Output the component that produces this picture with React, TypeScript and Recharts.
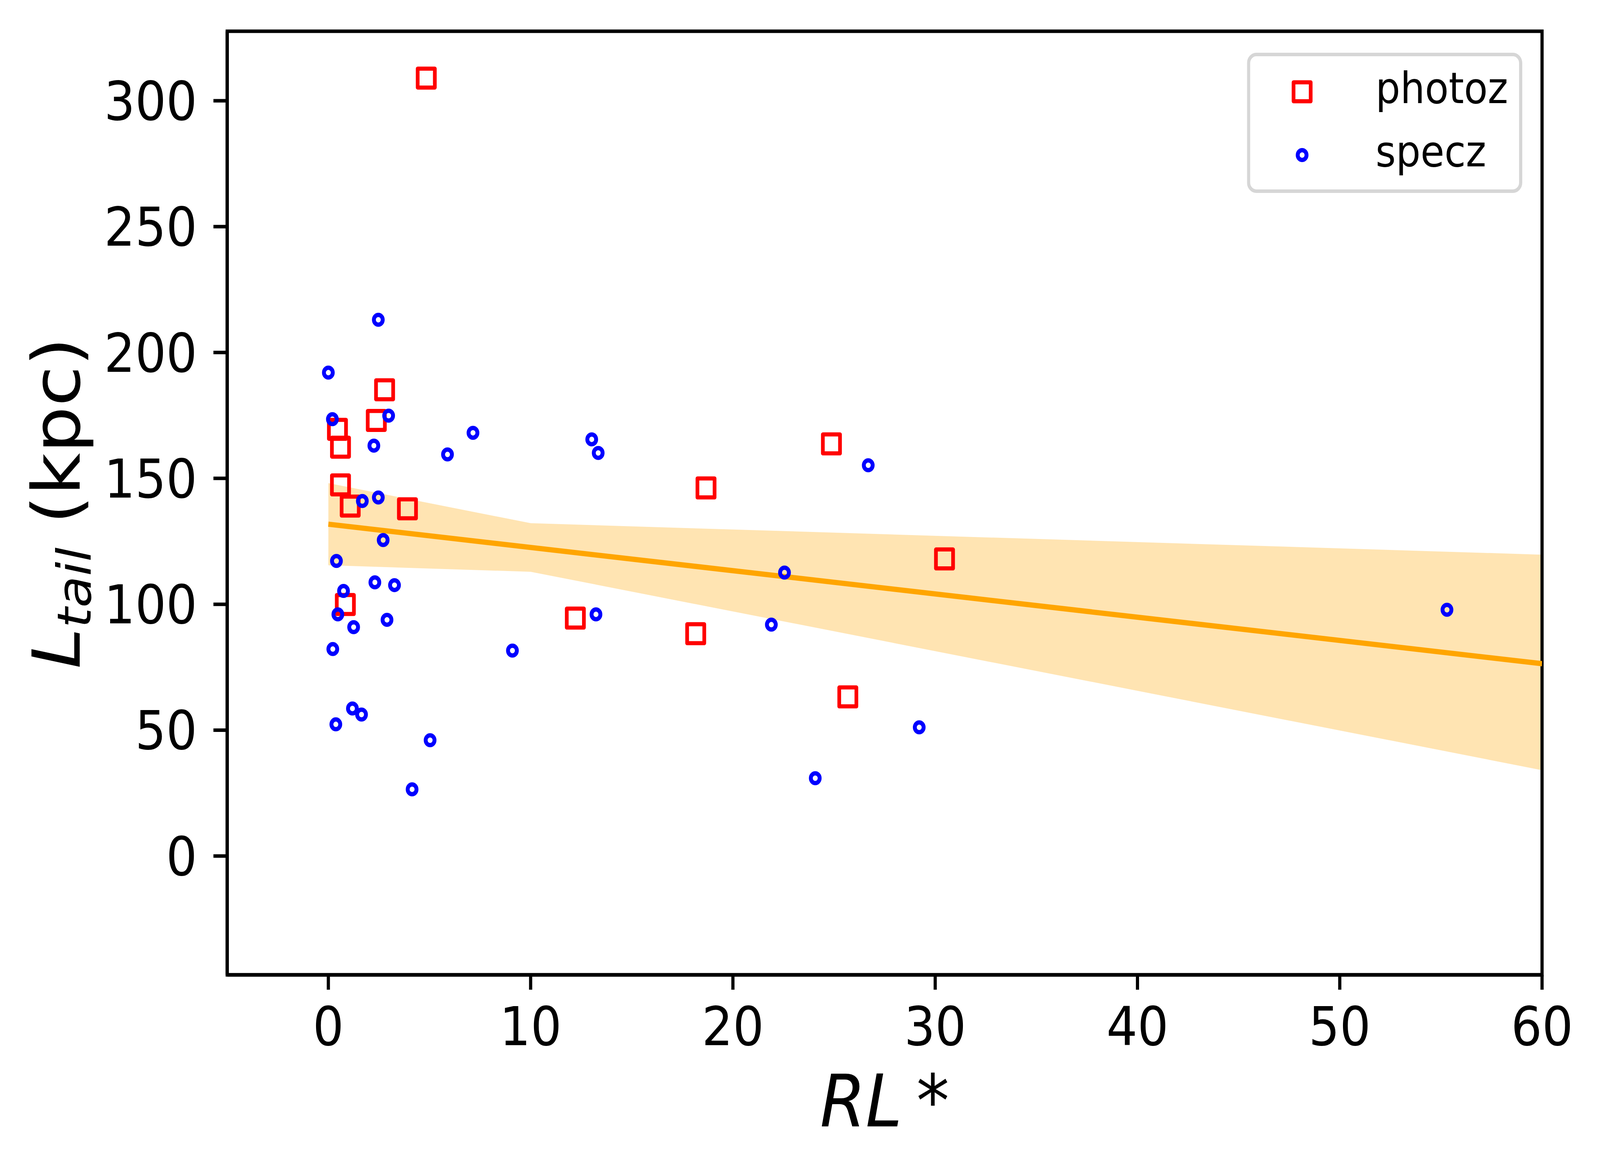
import { Area, ComposedChart, Line, ReferenceArea, Scatter, XAxis, YAxis } from 'recharts';

const FONT = 'DejaVu Sans';
const W = 4528;
const H = 3011;

// photoz sample (red squares)
const PHOTOZ_X = [4.84, 0.45, 0.6, 2.78, 2.37, 0.6, 1.08, 3.91, 0.84, 12.21, 18.16, 18.67, 24.87, 30.46, 25.68];
const PHOTOZ_Y = [309, 169.5, 162.4, 185.2, 173, 147.4, 139, 137.9, 99.9, 94.5, 88.3, 146.2, 163.7, 118, 63.2];

// specz sample (blue circles)
const SPECZ_X = [
  2.47, 0, 0.2, 2.98, 2.25, 7.15, 5.89, 13.02, 13.34, 26.69, 2.47, 1.68, 2.71, 0.4, 2.3, 3.27, 0.75,
  0.47, 1.25, 2.9, 0.22, 9.1, 13.23, 22.55, 21.9, 1.19, 1.64, 0.37, 5.03, 4.14, 24.07, 29.21, 55.3,
];
const SPECZ_Y = [
  213, 192, 173.5, 174.9, 163, 168.1, 159.5, 165.5, 160.1, 155.2, 142.4, 141, 125.5, 117.2, 108.7, 107.6,
  105.3, 96, 90.9, 93.8, 82.2, 81.6, 96, 112.6, 91.9, 58.6, 56.2, 52.3, 46, 26.5, 30.9, 51.1, 97.8,
];

// linear fit and its confidence band
const FIT_X = [0, 60];
const FIT_Y = [131.8, 76.4];
const BAND_X = [0, 10, 60];
const BAND_LO = [115.5, 112.9, 34.1];
const BAND_HI = [148.1, 132.2, 119.7];

const X_TICKS = [0, 10, 20, 30, 40, 50, 60];
const Y_TICKS = [0, 50, 100, 150, 200, 250, 300];

const LEGEND_ITEMS = ['photoz', 'specz'];

const photozRows = PHOTOZ_X.map((x, i) => ({ x, y: PHOTOZ_Y[i] }));
const speczRows = SPECZ_X.map((x, i) => ({ x, y: SPECZ_Y[i] }));
const fitRows = FIT_X.map((x, i) => ({ x, fit: FIT_Y[i] }));
const bandRows = BAND_X.map((x, i) => ({ x, band: [BAND_LO[i], BAND_HI[i]] }));

function Square(props: any) {
  const { cx, cy } = props;
  if (cx == null || cy == null) return null;
  return <rect x={cx - 24.25} y={cy - 24.25} width={48.5} height={48.5} fill="none" stroke="#ff0000" strokeWidth={10.5} strokeLinejoin="round" />;
}

function Ring(props: any) {
  const { cx, cy } = props;
  if (cx == null || cy == null) return null;
  return <circle cx={cx} cy={cy} r={12.5} fill="none" stroke="#0000ff" strokeWidth={11} />;
}

function YLabel(props: any) {
  const vb = props.viewBox || { x: 0, y: 80, width: 643, height: 2416 };
  const x = vb.x + 225;
  const y = vb.y + vb.height / 2;
  return (
    <text x={x} y={y} transform={`rotate(-90, ${x}, ${y})`} textAnchor="middle" fontFamily={FONT} fontSize={188} fill="#000">
      <tspan fontStyle="italic">L</tspan>
      <tspan fontStyle="italic" fontSize={132} dy={32}>tail</tspan>
      <tspan dy={-32}> (kpc)</tspan>
    </text>
  );
}

function XLabel(props: any) {
  const vb = props.viewBox || { x: 643, y: 2496, width: 3721, height: 515 };
  const x = vb.x + vb.width / 2;
  const y = vb.y + 388;
  return (
    <text x={x} y={y} textAnchor="middle" fontFamily={FONT} fontSize={186} fill="#000">
      <tspan fontStyle="italic">RL</tspan>
      <tspan dx={40}>*</tspan>
    </text>
  );
}

function LegendBox() {
  return (
    <svg width={779} height={359} style={{ position: 'absolute', left: 3529, top: 135, display: 'block' }}>
      <rect x={4.5} y={4.5} width={770} height={350} rx={22} fill="#fff" fillOpacity={0.8} stroke="#d6d6d6" strokeWidth={9} />
      {LEGEND_ITEMS.map((name, i) => {
        const cy = 100 + i * 162;
        return (
          <g key={name}>
            {i === 0 ? <Square cx={156} cy={cy} /> : <Ring cx={156} cy={cy} />}
            <text x={364} y={cy + 29} fontFamily={FONT} fontSize={110} fill="#000">
              {name}
            </text>
          </g>
        );
      })}
    </svg>
  );
}

export default function App() {
  // the viewport's CSS size need not be 4528x3011, so stretch the drawing to fill it
  const vw = typeof window !== 'undefined' ? document.documentElement.clientWidth || window.innerWidth : W;
  const vh = typeof window !== 'undefined' ? document.documentElement.clientHeight || window.innerHeight : H;
  const kx = Math.min(vw / W, 1);
  const ky = Math.min(vh / H, 1);

  const tickStyle = { fill: '#000', fontSize: 138, fontFamily: FONT };
  const axisStroke = { stroke: '#000', strokeWidth: 9 };
  return (
    <div style={{ position: 'absolute', left: 0, top: 0, width: W * kx, height: H * ky, overflow: 'hidden', background: '#fff' }}>
      <div style={{ position: 'absolute', left: 0, top: 0, width: W, height: H, transform: `scale(${kx}, ${ky})`, transformOrigin: '0 0' }}>
        <ComposedChart width={W} height={H} margin={{ top: 80, right: 164, bottom: 0, left: 0 }}>
          <XAxis
            type="number"
            dataKey="x"
            domain={[-5, 60]}
            allowDataOverflow
            ticks={X_TICKS}
            interval={0}
            height={515}
            tick={tickStyle}
            tickSize={38}
            tickMargin={44}
            axisLine={axisStroke}
            tickLine={axisStroke}
            label={<XLabel />}
          />
          <YAxis
            type="number"
            dataKey="y"
            domain={[-47.2, 327.6]}
            allowDataOverflow
            ticks={Y_TICKS}
            interval={0}
            width={643}
            tick={tickStyle}
            tickSize={39}
            tickMargin={46}
            axisLine={axisStroke}
            tickLine={axisStroke}
            label={<YLabel />}
          />
          <Area
            data={bandRows}
            dataKey="band"
            type="linear"
            fill="#ffe4b2"
            fillOpacity={1}
            stroke="none"
            activeDot={false}
            isAnimationActive={false}
          />
          <Line
            data={fitRows}
            dataKey="fit"
            type="linear"
            stroke="#ffa500"
            strokeWidth={13.5}
            dot={false}
            activeDot={false}
            isAnimationActive={false}
          />
          <Scatter name="photoz" data={photozRows} dataKey="y" shape={Square} isAnimationActive={false} />
          <Scatter name="specz" data={speczRows} dataKey="y" shape={Ring} isAnimationActive={false} />
          <ReferenceArea x1={-5} x2={60} y1={-47.2} y2={327.6} fill="none" stroke="#000" strokeWidth={9} ifOverflow="visible" />
        </ComposedChart>
        <LegendBox />
      </div>
    </div>
  );
}
